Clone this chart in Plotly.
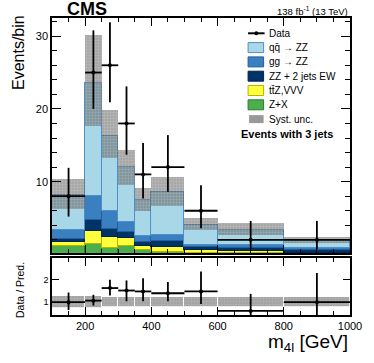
import plotly.graph_objects as go

# bin edges in m4l [GeV]
edges = [100, 200, 250, 300, 350, 400, 500, 600, 800, 1000]

# stacked predictions, events/bin (bottom -> top)
zx = [1.15, 1.47, 0.94, 1.17, 0.55, 0.30, 0.25, 0.15, 0.10]
ttz_vvv = [0.60, 1.73, 1.51, 1.06, 0.55, 0.70, 0.40, 0.30, 0.10]
zz_ew = [0.35, 1.48, 1.02, 0.91, 0.60, 0.90, 0.35, 0.40, 0.35]
gg_zz = [1.25, 3.39, 2.43, 1.26, 0.78, 0.70, 0.30, 0.45, 0.30]
qq_zz = [4.75, 15.53, 10.40, 7.60, 5.02, 6.00, 2.80, 2.10, 1.15]

# systematic band (low / high edge)
syst_lo = [6.3, 17.7, 13.3, 9.6, 5.9, 6.6, 3.4, 2.7, 1.55]
syst_hi = [10.4, 30.1, 19.9, 14.3, 9.1, 10.7, 5.0, 4.25, 2.45]

# data with asymmetric errors
data = [8, 25, 26, 18, 11, 12, 6, 2, 2]
data_up = [3.9, 5.8, 5.9, 5.1, 4.3, 4.4, 3.5, 2.6, 2.6]
data_dn = [2.8, 5.0, 5.1, 4.3, 3.3, 3.4, 2.4, 1.3, 1.3]

# ratio panel
ratio = [1.0, 1.07, 1.63, 1.52, 1.48, 1.40, 1.48, 0.61, 1.0]
ratio_up = [0.43, 0.26, 0.37, 0.45, 0.59, 0.50, 0.89, 0.76, 1.30]
ratio_dn = [0.35, 0.22, 0.33, 0.48, 0.44, 0.36, 0.56, 0.40, 0.65]
ratio_syst_lo = [0.76, 0.76, 0.80, 0.80, 0.80, 0.80, 0.80, 0.80, 0.80]
ratio_syst_hi = [1.28, 1.28, 1.22, 1.22, 1.22, 1.22, 1.22, 1.22, 1.22]

centers = [(a + b) / 2 for a, b in zip(edges[:-1], edges[1:])]
widths = [b - a for a, b in zip(edges[:-1], edges[1:])]
half = [w / 2 for w in widths]

FONT = "Liberation Sans"

# name, values, fill, edge
stack = [
    ("Z+X", zx, "#4cae4c", "#2d7d2d"),
    ("tt\u0304Z,VVV", ttz_vvv, "#ffff3c", "#b5b500"),
    ("ZZ + 2 jets EW", zz_ew, "#003366", "#002650"),
    ("gg \u2192 ZZ", gg_zz, "#3a7fc0", "#245e9c"),
    ("qq\u0304 \u2192 ZZ", qq_zz, "#a8d8e8", "#4f8fc9"),
]

SYST_FILL = "rgba(95,95,95,0.55)"
SYST_HATCH = "rgba(235,235,235,0.55)"

fig = go.Figure()

for name, vals, col, edge in stack:
    fig.add_trace(go.Bar(
        x=centers, y=vals, width=widths, name=name, showlegend=False,
        marker={"color": col, "line": {"color": edge, "width": 1}},
        xaxis="x", yaxis="y",
    ))

fig.add_trace(go.Bar(
    x=centers, y=[h - l for l, h in zip(syst_lo, syst_hi)], base=syst_lo,
    width=widths, name="Syst. unc.", showlegend=False,
    marker={
        "color": SYST_FILL,
        "line": {"width": 0},
        "pattern": {"shape": "+", "fgcolor": SYST_HATCH, "size": 3,
                    "solidity": 0.3, "fillmode": "overlay"},
    },
    xaxis="x", yaxis="y",
))

err_style = {"type": "data", "color": "black", "thickness": 1.8, "width": 0}

fig.add_trace(go.Scatter(
    x=centers, y=data, mode="markers", name="Data", showlegend=False,
    marker={"color": "black", "size": 4},
    error_x={**err_style, "array": half},
    error_y={**err_style, "array": data_up, "arrayminus": data_dn},
    xaxis="x", yaxis="y",
))

# ratio panel
fig.add_trace(go.Bar(
    x=centers, y=[h - l for l, h in zip(ratio_syst_lo, ratio_syst_hi)], base=ratio_syst_lo,
    width=widths, showlegend=False,
    marker={"color": "rgba(128,128,128,0.72)", "line": {"color": "white", "width": 0.8},
            "pattern": {"shape": "+", "fgcolor": "rgba(235,235,235,0.45)", "size": 3,
                        "solidity": 0.3, "fillmode": "overlay"}},
    xaxis="x2", yaxis="y2",
))
fig.add_trace(go.Scatter(
    x=centers, y=ratio, mode="markers", showlegend=False,
    marker={"color": "black", "size": 4},
    error_x={**err_style, "array": half},
    error_y={**err_style, "array": ratio_up, "arrayminus": ratio_dn},
    xaxis="x2", yaxis="y2",
))

# hand-drawn legend (ROOT-style compact spacing), pixel -> paper helpers
L, T, PW, PH = 52, 18, 307, 297


def px(v):
    return (v - L) / PW


def py(v):
    return (T + PH - v) / PH


shapes = []
annotations = []
leg_rows = [("Data", None, None)] + [(n, c, e) for n, _, c, e in reversed(stack)] + [("Syst. unc.", "syst", None)]
for i, (name, col, edge) in enumerate(leg_rows):
    yc = 33.3 + i * 14.3
    if col is None:
        shapes.append({"type": "line", "xref": "paper", "yref": "paper",
                       "x0": px(254), "x1": px(271), "y0": py(yc), "y1": py(yc),
                       "line": {"color": "black", "width": 2}})
        shapes.append({"type": "circle", "xref": "paper", "yref": "paper",
                       "x0": px(260.5), "x1": px(264.5), "y0": py(yc - 2), "y1": py(yc + 2),
                       "fillcolor": "black", "line": {"width": 0}})
    elif col == "syst":
        shapes.append({"type": "rect", "xref": "paper", "yref": "paper",
                       "x0": px(255), "x1": px(270), "y0": py(yc - 4), "y1": py(yc + 4),
                       "fillcolor": "rgba(110,110,110,0.7)", "line": {"width": 0}})
    else:
        shapes.append({"type": "rect", "xref": "paper", "yref": "paper",
                       "x0": px(254), "x1": px(270), "y0": py(yc - 5), "y1": py(yc + 5),
                       "fillcolor": col, "line": {"color": edge, "width": 1}})
    annotations.append({"text": name, "xref": "paper", "yref": "paper",
                        "x": px(273), "y": py(yc), "xanchor": "left", "yanchor": "middle",
                        "showarrow": False, "font": {"size": 10}})

annotations += [
    {"text": "<b>CMS</b>", "xref": "paper", "yref": "paper", "x": px(65), "y": py(9),
     "xanchor": "left", "yanchor": "middle", "showarrow": False, "font": {"size": 18}},
    {"text": "138 fb<sup>-1</sup> (13 TeV)", "xref": "paper", "yref": "paper", "x": px(359),
     "y": py(11), "xanchor": "right", "yanchor": "middle", "showarrow": False,
     "font": {"size": 9.5}},
    {"text": "<b>Events with 3 jets</b>", "xref": "paper", "yref": "paper", "x": px(344),
     "y": py(134), "xanchor": "right", "yanchor": "middle", "showarrow": False,
     "font": {"size": 11}},
    {"text": "Events/bin", "xref": "paper", "yref": "paper", "x": px(17), "y": py(53),
     "xanchor": "center", "yanchor": "middle", "textangle": -90, "showarrow": False,
     "font": {"size": 16}},
    {"text": "Data / Pred.", "xref": "paper", "yref": "paper", "x": px(19), "y": py(290),
     "xanchor": "center", "yanchor": "middle", "textangle": -90, "showarrow": False,
     "font": {"size": 10.5}},
    {"text": "m<sub>4l</sub> [GeV]", "xref": "paper", "yref": "paper", "x": px(359),
     "y": py(343), "xanchor": "right", "yanchor": "middle", "showarrow": False,
     "font": {"size": 19}},
]

axis_common = {
    "showline": True, "linecolor": "black", "linewidth": 1.5, "mirror": "allticks",
    "ticks": "inside", "tickcolor": "black", "showgrid": False, "zeroline": False,
}
minor_x = {"dtick": 50, "tick0": 0, "ticklen": 4, "ticks": "inside", "tickcolor": "black"}

fig.update_layout(
    width=374, height=363,
    barmode="stack", bargap=0,
    showlegend=False,
    paper_bgcolor="white", plot_bgcolor="white",
    font={"family": FONT, "color": "black", "size": 10},
    margin={"l": L, "r": 374 - L - PW, "t": T, "b": 363 - T - PH},
    xaxis={**axis_common, "domain": [0, 1], "anchor": "y", "range": [100, 1000],
           "tickvals": [200, 400, 600, 800, 1000], "ticklen": 8, "showticklabels": False,
           "minor": minor_x},
    yaxis={**axis_common, "domain": [0.209, 1], "anchor": "x", "range": [0.2, 32.5],
           "tickmode": "array", "tickvals": [10, 20, 30], "ticktext": ["10", "20", "30"],
           "ticklen": 9, "tickfont": {"size": 11},
           "minor": {"dtick": 2, "tick0": 0, "ticklen": 5, "ticks": "inside", "tickcolor": "black"}},
    xaxis2={**axis_common, "domain": [0, 1], "anchor": "y2", "range": [100, 1000],
            "tickvals": [200, 400, 600, 800, 1000], "ticklen": 8, "tickfont": {"size": 11},
            "minor": minor_x},
    yaxis2={**axis_common, "domain": [0, 0.192], "anchor": "x2", "range": [0.43, 2.97],
            "tickvals": [1, 2], "ticklen": 7, "tickfont": {"size": 9}},
    shapes=shapes,
    annotations=annotations,
)

fig.write_html("out.html", config={"displayModeBar": False},
               post_script="document.body.style.margin='0px';")
